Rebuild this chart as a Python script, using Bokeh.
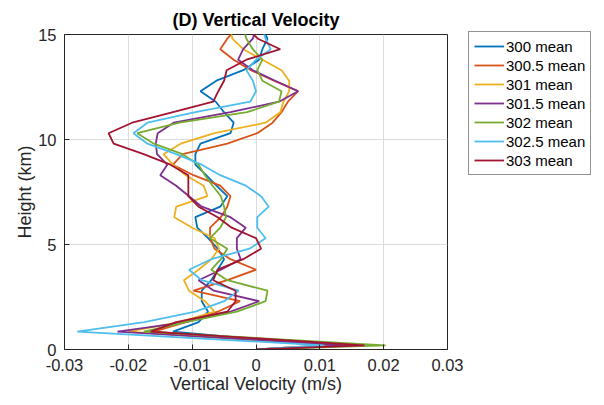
from bokeh.plotting import figure
from bokeh.models import Legend, LegendItem, FixedTicker, CustomJSTickFormatter, Range1d
from bokeh.embed import file_html
from bokeh.resources import INLINE

# Heights (km)
height_km = [0, 0.2, 0.85, 1.3, 1.8, 2.3, 2.8, 3.3, 3.8, 4.3, 4.8, 5.3, 5.8, 6.3, 6.8, 7.3,
             7.8, 8.3, 8.8, 9.3, 9.8, 10.3, 10.8, 11.3, 11.8, 12.3, 12.8, 13.3, 13.8, 14.3, 14.8, 15.3]

w_300 = [0, 0.0105, -0.013, -0.009, -0.0075, -0.0085, -0.0085, -0.007, -0.006, -0.005, -0.006, -0.0075,
         -0.0092, -0.0095, -0.0056, -0.0045, -0.0062, -0.0078, -0.0095, -0.0095, -0.0087, -0.004,
         -0.0035, -0.005, -0.0063, -0.0087, -0.0062, -0.002, 0.0005, 0.001, 0.0018, 0.001]
w_300_5 = [0, 0.012, -0.016, -0.011, -0.006, -0.0025, -0.0098, -0.0045, 0.0, -0.004, -0.0065, -0.0072,
           -0.0072, -0.0055, -0.0045, -0.004, -0.0056, -0.0098, -0.013, -0.0115, -0.0045, 0.0002,
           0.0026, 0.004, 0.005, 0.0066, 0.0028, -0.0008, -0.0035, -0.0056, -0.0045, -0.003]
w_301 = [0, 0.011, -0.020, -0.012, -0.0065, -0.008, -0.0105, -0.0113, -0.009, -0.007, -0.0058, -0.0065,
         -0.010, -0.0128, -0.0125, -0.0076, -0.0082, -0.011, -0.013, -0.0145, -0.0118, -0.0065,
         0.0015, 0.0038, 0.0043, 0.0052, 0.0052, 0.004, 0.001, -0.002, -0.0037, -0.004]
w_301_5 = [0, 0.0143, -0.0217, -0.011, -0.004, 0.0005, -0.0066, -0.009, -0.0055, -0.0024, -0.003, -0.003,
           -0.0016, -0.004, -0.0085, -0.0105, -0.0125, -0.015, -0.0139, -0.0155, -0.0157, -0.0154,
           -0.0129, -0.004, 0.0036, 0.0066, 0.003, -0.0005, -0.0028, -0.002, -0.0005, 0.0]
w_302 = [0, 0.0203, -0.0176, -0.011, -0.003, 0.0015, 0.0018, -0.0045, -0.007, -0.0055, -0.0045, -0.0072,
         -0.0056, -0.0047, -0.005, -0.0055, -0.0068, -0.008, -0.009, -0.0115, -0.016, -0.0186,
         -0.012, -0.0014, 0.0036, 0.004, 0.001, 0.0002, 0.001, -0.0005, -0.0015, -0.002]
w_302_5 = [0, 0.0106, -0.028, -0.0175, -0.0095, -0.005, -0.0027, -0.0085, -0.0105, -0.007, -0.001, 0.0015,
           0.0002, 0.0002, 0.002, 0.0008, -0.0016, -0.0056, -0.0085, -0.0125, -0.017, -0.0192,
           -0.017, -0.0095, -0.0009, 0.0, -0.0005, -0.0015, 0.0, 0.0023, 0.0015, 0.001]
w_303 = [0, 0.017, -0.0165, -0.0125, -0.0045, -0.0032, -0.0032, -0.0067, -0.006, -0.002, 0.0008, 0.0,
         -0.0038, -0.006, -0.009, -0.0106, -0.0106, -0.0106, -0.0134, -0.0176, -0.0223, -0.0231,
         -0.0194, -0.013, -0.0067, -0.0059, -0.005, -0.0046, -0.0015, 0.0038, 0.0003, -0.0015]

series_labels = ["300 mean", "300.5 mean", "301 mean", "301.5 mean", "302 mean", "302.5 mean", "303 mean"]
series_values = [w_300, w_300_5, w_301, w_301_5, w_302, w_302_5, w_303]
colors = ["#0072BD", "#D95319", "#EDB120", "#7E2F8E", "#77AC30", "#4DBEEE", "#A2142F"]

x_ticks = [-0.03, -0.02, -0.01, 0, 0.01, 0.02, 0.03]
y_ticks = [0, 5, 10, 15]

FONT = "Liberation Sans"
AX = "#262626"

p = figure(frame_width=383, frame_height=315, output_backend="svg", toolbar_location=None,
           x_range=Range1d(-0.03, 0.03), y_range=Range1d(0, 15),
           min_border_left=64, min_border_right=0, min_border_top=34, min_border_bottom=56,
           title="(D) Vertical Velocity")

p.title.align = "center"
p.title.text_font = FONT
p.title.text_font_size = "18px"
p.title.text_font_style = "bold"
p.title.text_color = "#000000"

p.outline_line_color = AX
p.outline_line_width = 1

for ax in (p.xaxis[0], p.yaxis[0]):
    ax.axis_line_color = AX
    ax.major_tick_line_color = AX
    ax.major_tick_in = 5
    ax.major_tick_out = 0
    ax.minor_tick_line_color = None
    ax.major_label_text_font = FONT
    ax.major_label_text_font_size = "16.5px"
    ax.major_label_text_color = AX
    ax.axis_label_text_font = FONT
    ax.axis_label_text_font_size = "18px"
    ax.axis_label_text_font_style = "normal"
    ax.axis_label_text_color = AX

p.xaxis.ticker = FixedTicker(ticks=x_ticks)
p.yaxis.ticker = FixedTicker(ticks=y_ticks)
p.xaxis.formatter = CustomJSTickFormatter(code="return Number(tick.toFixed(4)).toString();")
p.xaxis.axis_label = "Vertical Velocity (m/s)"
p.yaxis.axis_label = "Height (km)"
p.xaxis.major_label_standoff = 9
p.yaxis.major_label_standoff = 8
p.xaxis.axis_label_standoff = 0
p.yaxis.axis_label_standoff = 0

p.grid.grid_line_color = "#dcdcdc"
p.grid.grid_line_width = 1
p.xgrid.ticker = FixedTicker(ticks=x_ticks)
p.ygrid.ticker = FixedTicker(ticks=y_ticks)

items = []
for lab, vals, col in zip(series_labels, series_values, colors):
    r = p.line(vals, height_km, line_color=col, line_width=1.8)
    items.append(LegendItem(label=lab, renderers=[r]))

legend = Legend(items=items, location=(21, 174))
legend.label_text_font = FONT
legend.label_text_font_size = "15px"
legend.label_text_color = "#000000"
legend.border_line_color = AX
legend.border_line_width = 1
legend.background_fill_color = "white"
legend.padding = 5
legend.margin = 0
legend.spacing = 1
legend.label_height = 18
legend.glyph_height = 18
legend.glyph_width = 30
legend.label_standoff = 2
p.add_layout(legend, "right")

open("out.html", "w").write(file_html(p, INLINE))
